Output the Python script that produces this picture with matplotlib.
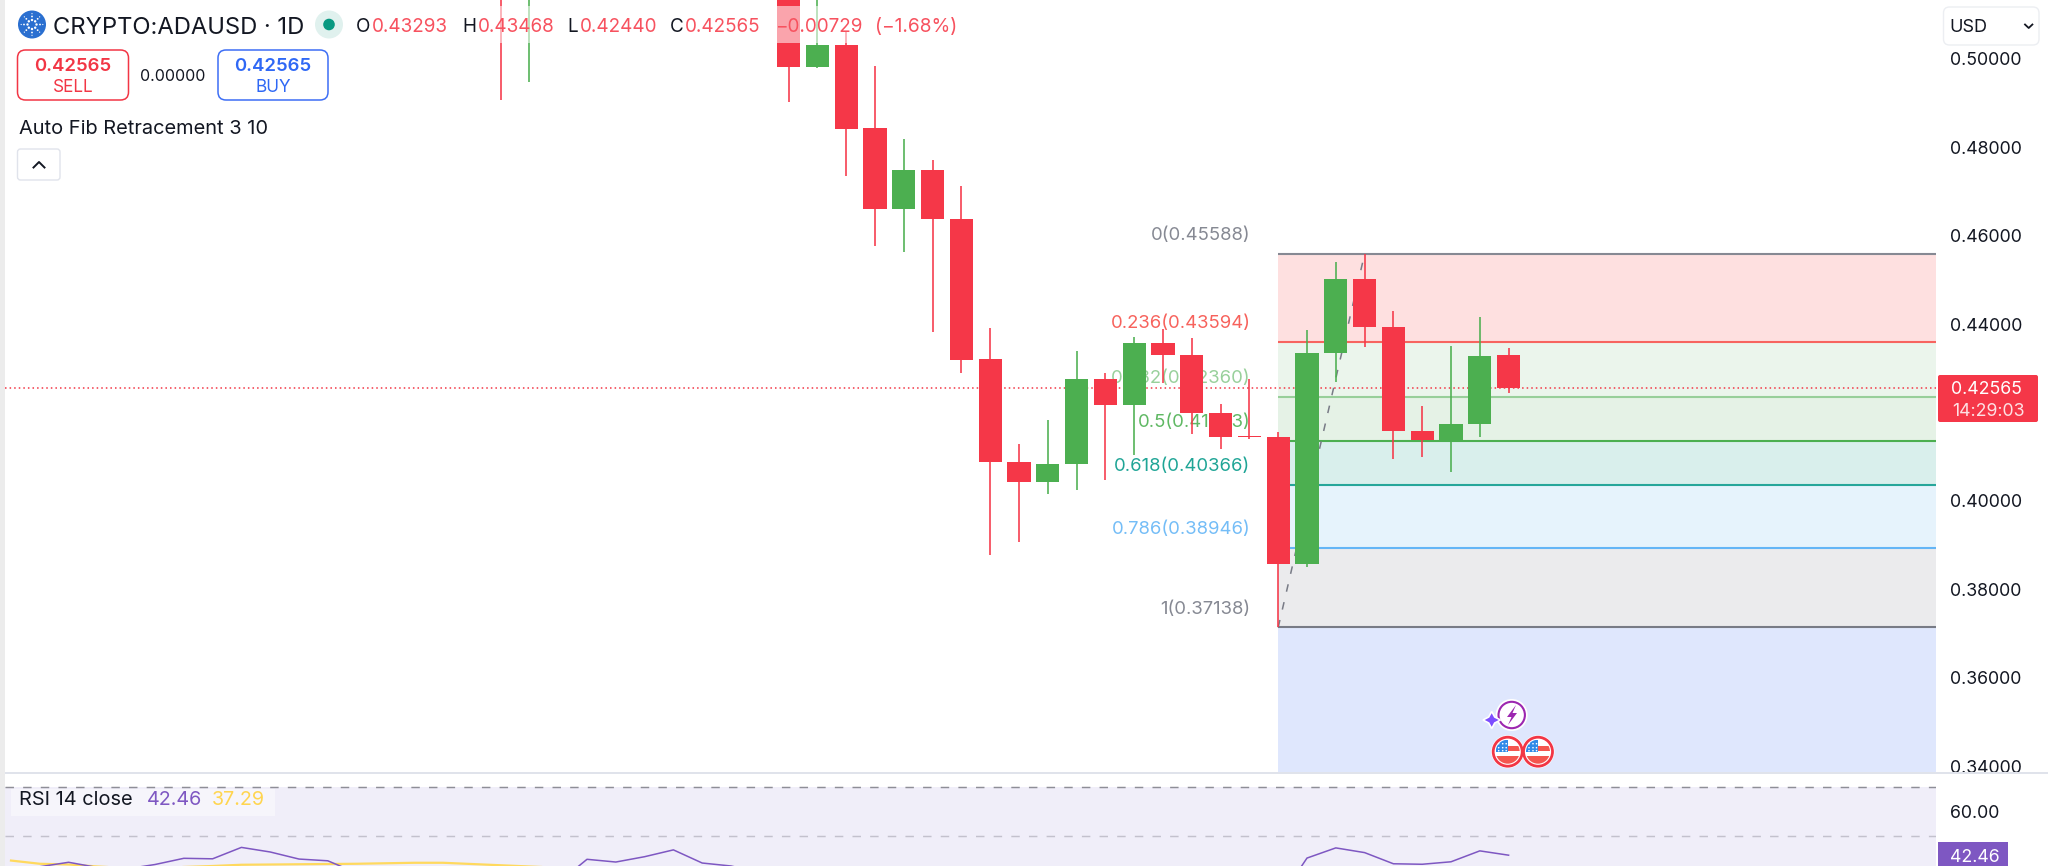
import numpy as np
import matplotlib
matplotlib.use("Agg")
import matplotlib.pyplot as plt
from matplotlib.patches import Rectangle, Circle, FancyBboxPatch, Polygon
from matplotlib.transforms import ScaledTranslation

plt.rcParams['font.family'] = ['Inter', 'DejaVu Sans']

# ---- data -------------------------------------------------------------
opens = [.5300,.5220,.5320,.5420,.5530,.5450,.5370,.5460,.5340,.5290,.5240,.49817,.50314,.4843,.46597,.47486,.46385,
         .43204,.40873,.40434,.40835,.42765,.4217,.43566,.43294,.41995,.41480,.41452,.38572,.43339,.45014,.43934,.41581,.41378,.4174,.43293]
highs = [.5400,.5390,.5480,.5600,.5660,.5520,.5510,.5540,.5410,.5360,.5330,.5195,.50609,.49846,.48188,.47713,.47124,
         .43912,.41294,.4183,.43398,.4290,.43708,.43882,.43679,.42192,.42751,.41566,.43867,.45412,.45588,.44296,.42147,.43511,.44154,.43468]
lows = [.4907,.4948,.5250,.5350,.5380,.5300,.5310,.5280,.5220,.5200,.49032,.49794,.47357,.45767,.45631,.43828,.42894,
        .38776,.3907,.40156,.40247,.40473,.41038,.42674,.41507,.41181,.41394,.37138,.38498,.42697,.43482,.40955,.4100,.40661,.41452,.42440]
closes = [.5220,.5320,.5420,.5530,.5450,.5370,.5460,.5340,.5290,.5240,.49817,.50314,.48414,.46597,.47486,.46371,.43188,
          .40873,.40434,.40842,.42765,.4217,.43566,.43294,.41995,.41452,.41450,.38572,.43353,.45014,.43934,.41581,.41378,.4174,.43285,.42565]

fib_ratios = ['0', '0.236', '0.382', '0.5', '0.618', '0.786', '1']
fib_levels = [.45588, .43594, .42360, .41363, .40366, .38946, .37138]
fib_line_colors = ['#868993', '#f7645f', '#98cf9a', '#4caf50', '#26a69a', '#64b5f6', '#787b86']
fib_text_colors = ['#868993', '#f7625c', '#98d09b', '#5fb863', '#1fa596', '#74bdf7', '#868993']
fib_fills = ['#fee0e0', '#ebf5ec', '#e5f2e6', '#d9efec', '#e6f3fc', '#ebebed', '#dfe7fd']

price_ticks = [.34, .36, .38, .40, .42, .44, .46, .48, .50]
last_price = .42565

rsi = [37.0,37.8,39.6,37.5,36.9,38.7,41.2,41.0,45.6,43.75,40.9,40.2,35.3,34.0,33.5,33.0,32.5,33.0,32.0,31.3,
       40.8,39.7,41.85,44.6,39.3,38.1,35.5,34.0,34.8,33.0,31.0,32.5,31.0,28.0,26.0,25.5,26.5,31.0,30.0,33.5,32.5,
       30.0,29.0,28.8,24.0,41.3,45.4,43.5,39.0,38.8,39.8,44.2,42.46]
rsi_ma = [40.3,39.0,38.7,37.9,37.3,37.3,37.7,38.1,38.6,38.7,38.8,38.9,39.0,39.2,39.4,39.4,38.9,38.4,37.9,
          37.4,37.0,36.9,36.8,36.6,36.5,36.4,36.2,36.0,35.6,35.3,35.0,34.6,34.3,33.9,33.6,33.3,33.2,33.1,33.0,33.2,
          33.1,33.2,33.4,33.6,34.4,35.0,35.6,36.0,36.4,36.7,36.9,37.1,37.29]
rsi_bands = [70, 50]
rsi_ticks = [60]

# ---- layout -----------------------------------------------------------
W, H = 2048, 866
RED, GREEN = '#f53748', '#4caf50'
TXT = '#131722'
fig = plt.figure(figsize=(W/100, H/100), dpi=100, facecolor='white')

def axpx(x0, y0, x1, y1, **kw):
    return fig.add_axes([x0/W, 1-y1/H, (x1-x0)/W, (y1-y0)/H], **kw)

XMIN, XMAX = (5-1508.6)/28.8, (1936-1508.6)/28.8
ax = axpx(5, 0, 1936, 772)
ax.set_xlim(XMIN, XMAX)
ax.set_ylim(.33867, .51333)
rx = axpx(5, 773, 1936, 866)
rx.set_xlim(XMIN, XMAX)
rx.set_ylim(38.1, 75.6)
for a in (ax, rx):
    for s in a.spines.values():
        s.set_visible(False)
    a.set_xticks([])
    a.yaxis.tick_right()
    a.tick_params(axis='y', length=0, pad=10, labelsize=12.8, labelcolor=TXT)

ax.set_yticks(price_ticks)
ax.set_yticklabels([f'{p:.5f}' for p in price_ticks])
rx.set_yticks(rsi_ticks)
rx.set_yticklabels([f'{p:.2f}' for p in rsi_ticks])

# fib zones
FL = -8
bounds = fib_levels + [.33867]
for i, c in enumerate(fib_fills):
    ax.fill_between([FL, XMAX], bounds[i], bounds[i+1], color=c, lw=0, zorder=1)
for lvl, c in zip(fib_levels, fib_line_colors):
    ax.hlines(lvl, FL, XMAX, color=c, lw=1.5, zorder=2)
fib_shift = ax.transData + ScaledTranslation(-20/72, 14.5/72, fig.dpi_scale_trans)
for r, lvl, c in zip(fib_ratios, fib_levels, fib_text_colors):
    ax.text(FL, lvl, f'{r}({lvl:.5f})', transform=fib_shift, ha='right', va='center_baseline',
            fontsize=13.3, color=c, zorder=2.5)
ax.plot([FL, -5], [fib_levels[-1], fib_levels[0]], color='#787b86', lw=1.1,
        ls=(0, (5, 7)), zorder=2.6)
ax.axhline(last_price, color='#f23645', lw=1.1, ls=(0, (1, 2)), zorder=3)

# candles
n = len(opens)
xs = np.arange(-n+1, 1)
o, h, l, c = map(np.array, (opens, highs, lows, closes))
cols = np.where(c >= o, GREEN, RED)
ax.vlines(xs, l, h, colors=cols, lw=1.15, zorder=4)
ax.bar(xs, np.abs(c-o), bottom=np.minimum(o, c), width=0.8, color=cols, lw=0, zorder=5)

# RSI
rxs = np.arange(-len(rsi)+1, 1)
rx.axhspan(38.1, rsi_bands[0], color='#f0eef9', lw=0, zorder=1)
rx.axhline(rsi_bands[0], color='#8e8e97', lw=1.05, ls=(0, (5.8, 6.3)), zorder=2)
rx.axhline(rsi_bands[1], color='#c3c1cd', lw=1.05, ls=(0, (5.8, 6.3)), zorder=2)
rx.plot(rxs, rsi_ma, color='#ffd95e', lw=1.6, zorder=3)
rx.plot(rxs, rsi, color='#7e57c2', lw=1.1, zorder=4)

# ---- UI overlay in pixel coordinates ----------------------------------
ui = fig.add_axes([0, 0, 1, 1], zorder=10)
ui.set_xlim(0, W)
ui.set_ylim(H, 0)
ui.axis('off')

def T(x, y, s, size=13.4, color=TXT, ha='left', **kw):
    return ui.text(x, y, s, fontsize=size, color=color, ha=ha, va='center_baseline', **kw)

def box(x0, y0, x1, y1, r=6, fc='white', ec='none', lw=1.0, z=2):
    p = FancyBboxPatch((x0+r, y0+r), x1-x0-2*r, y1-y0-2*r, boxstyle=f'round,pad={r},rounding_size={r}',
                       fc=fc, ec=ec, lw=lw, zorder=z)
    ui.add_patch(p)
    return p

ui.add_patch(Rectangle((0, 0), 5, H, fc='#ececec', ec='none', zorder=1))
ui.add_patch(Rectangle((5, 771.5), 2043, 2, fc='#e0e3eb', ec='none', zorder=1))
ui.add_patch(Rectangle((12, 6), 960, 37, fc='white', alpha=0.55, ec='none', zorder=1))

# title row
ui.add_patch(Circle((32, 24.5), 14, fc='#2a6fd0', ec='none', zorder=2))
for ang in np.arange(0, 360, 45):
    for rad, sz in ((4.5, 1.2), (8, 0.9), (10.8, 0.6)):
        ui.add_patch(Circle((32+rad*np.cos(np.radians(ang)), 24.5+rad*np.sin(np.radians(ang))), sz,
                            fc='white', ec='none', zorder=3))
T(53, 25, 'CRYPTO:ADAUSD · 1D', size=17.1)
ui.add_patch(Circle((329, 24.5), 14, fc='#e0f1ee', ec='none', zorder=2))
ui.add_patch(Circle((329, 24.5), 5.8, fc='#089981', ec='none', zorder=3))
VAL = '#f7525f'
for xl, lab, xv, val in ((356, 'O', 372, '0.43293'), (462, 'H', 478, '0.43468'),
                         (567.5, 'L', 580, '0.42440'), (669.5, 'C', 684.5, '0.42565')):
    T(xl, 25, lab, size=13.6)
    T(xv, 25, val, size=13.6, color=VAL)
T(775, 25, '\u22120.00729', size=13.6, color=VAL)
T(875, 25, '(\u22121.68%)', size=13.8, color=VAL)

# sell / buy
box(17.5, 50, 128.5, 100, r=8, ec='#f23645', lw=1.1)
box(218, 50, 328, 100, r=8, ec='#3d6ef5', lw=1.1)
T(73, 64.5, '0.42565', size=13.4, color='#f23645', ha='center', fontweight='semibold')
T(73, 86, 'SELL', size=12.4, color='#f23645', ha='center')
T(273, 64.5, '0.42565', size=13.4, color='#2f68f5', ha='center', fontweight='semibold')
T(273, 86, 'BUY', size=12.4, color='#2f68f5', ha='center')
T(173, 75, '0.00000', size=11.5, ha='center')
T(19, 126.5, 'Auto Fib Retracement 3 10', size=14.4)
box(17.5, 149, 60, 180, r=3, ec='#e0e3eb', lw=1.0)
ui.plot([33.5, 39, 44.5], [167.5, 162, 167.5], color=TXT, lw=1.4, zorder=3)

# currency
box(1943.5, 7, 2039, 45, r=6, ec='#eceef2', lw=1.0)
T(1949, 26, 'USD', size=13)
ui.plot([2025, 2028.7, 2032.4], [24.5, 28, 24.5], color=TXT, lw=1.3, zorder=3)

# price / rsi tags
box(1938, 375, 2038, 422, r=2, fc='#f53748', z=4)
T(1951, 388, f'{last_price:.5f}', size=12.8, color='white', zorder=5)
T(1952, 409, '14:29:03', size=12.8, color='#fde0e3', zorder=5)
ui.add_patch(Rectangle((1938, 842), 70, 24, fc='#7e57c2', ec='none', zorder=4))
T(1950, 855, '42.46', size=12.8, color='white', zorder=5)

# RSI legend
ui.add_patch(Rectangle((11, 788.5), 264, 27.5, fc='white', alpha=0.45, ec='none', zorder=1))
T(19, 798, 'RSI 14 close', size=14.4)
T(147, 798, '42.46', size=14.2, color='#7e57c2')
T(212, 798, '37.29', size=14.2, color='#ffd54f')

# event icons
ui.add_patch(Circle((1511.7, 715), 16, fc='white', ec='none', zorder=2))
ui.add_patch(Circle((1511.7, 715), 13.2, fc='white', ec='#9c27b0', lw=1.5, zorder=3))
ui.add_patch(Polygon([(1516, 705), (1507, 717), (1511.5, 717), (1508, 725), (1517, 713), (1512.5, 713)],
                     fc='#9c27b0', ec='none', zorder=4))
star = [(1491.7, 711.5), (1494.7, 717), (1500.5, 720), (1494.7, 723), (1491.7, 728.5), (1488.7, 723), (1483, 720), (1488.7, 717)]
ui.add_patch(Polygon(star, fc='#7c4dff', ec='white', lw=1.2, zorder=5))
for cx in (1507.7, 1538):
    cy = 751.7
    ui.add_patch(Circle((cx, cy), 16.5, fc='white', ec='none', zorder=3))
    ring = Circle((cx, cy), 14.5, fc='white', ec='#f23645', lw=2, zorder=6)
    ui.add_patch(ring)
    clip = Circle((cx, cy), 12, transform=ui.transData)
    for (rx0, ry0, rw, rh, col) in ((cx-12, cy-12, 12, 12, '#2f8ae8'), (cx, cy-6, 12, 5, '#f4564f'),
                                    (cx-12, cy+4, 24, 9, '#f4564f')):
        r_ = Rectangle((rx0, ry0), rw, rh, fc=col, ec='none', zorder=7)
        ui.add_patch(r_)
        r_.set_clip_path(clip)
    for dx in (-9, -5, -1.5):
        for dy in (-8, -4, -1):
            ui.add_patch(Circle((cx+dx, cy+dy), 0.8, fc='white', ec='none', zorder=8))

fig.savefig('out.png', dpi=100, facecolor='white')
